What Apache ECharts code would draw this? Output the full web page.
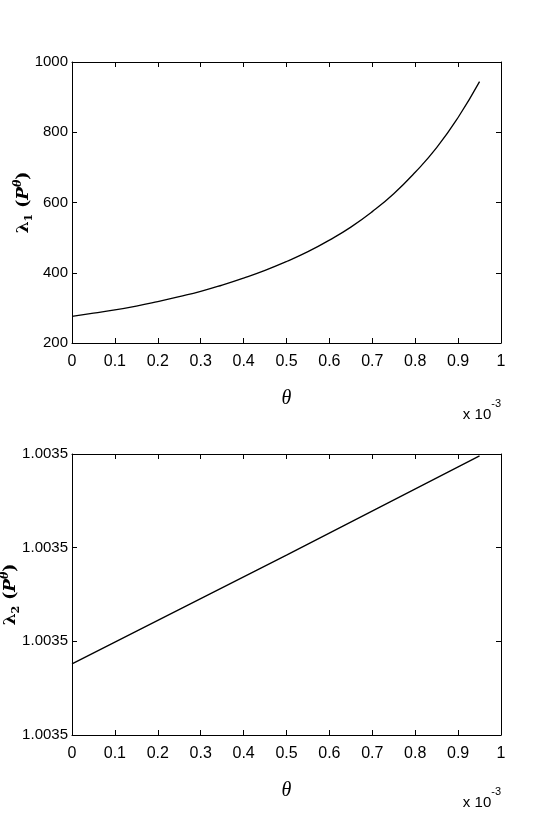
<!DOCTYPE html>
<html>
<head>
<meta charset="utf-8">
<script src="https://cdn.jsdelivr.net/npm/echarts@6/dist/echarts.min.js"></script>
<style>
  html, body { margin: 0; padding: 0; background: #fff; }
  #chart { width: 554px; height: 830px; }
</style>
</head>
<body>
<div id="chart"></div>
<script>
// values (theta in units of 1e-3)
const theta1 = [0, 0.05, 0.1, 0.15, 0.2, 0.25, 0.3, 0.35, 0.4, 0.45, 0.5,
                0.55, 0.6, 0.65, 0.7, 0.75, 0.8, 0.85, 0.9, 0.95];
const lambda1 = [276, 285, 294, 305, 318, 332, 347, 365, 385, 407, 432,
                 460, 493, 530, 574, 625, 686, 756, 842, 944];

const theta2 = [0, 0.5, 0.95];
const lambda2 = [1.00348076, 1.00348192, 1.00348298];

const xTicks = { min: 0, max: 1, interval: 0.1 };

const font = "'Liberation Sans', Arial, sans-serif";

function xAxes(gridIndex) {
    return [
        {
            type: 'value', gridIndex: gridIndex, position: 'bottom',
            min: xTicks.min, max: xTicks.max, interval: xTicks.interval,
            axisLine: { onZero: false, lineStyle: { color: '#000', width: 1 } },
            axisTick: { inside: true, length: 5, lineStyle: { color: '#000' } },
            axisLabel: { color: '#000', fontFamily: font, fontSize: 16, margin: 11 },
            splitLine: { show: false },
            name: 'θ',
            nameLocation: 'middle',
            nameGap: 46,
            nameTextStyle: { color: '#000', fontFamily: "'Liberation Serif', serif", fontStyle: 'italic', fontSize: 20 }
        },
        {
            type: 'value', gridIndex: gridIndex, position: 'top',
            min: xTicks.min, max: xTicks.max, interval: xTicks.interval,
            axisLine: { onZero: false, lineStyle: { color: '#000', width: 1 } },
            axisTick: { inside: true, length: 5, lineStyle: { color: '#000' } },
            axisLabel: { show: false },
            splitLine: { show: false }
        }
    ];
}

function yName(sub) {
    return '{l|λ}{s|' + sub + '}{l| (}{p|P}{t|θ}{l|)}';
}

const yNameStyle = {
    color: '#000',
    fontWeight: 'bold',
    rich: {
        l: { fontFamily: "'DejaVu Serif', serif", fontSize: 17, fontWeight: 'bold', lineHeight: 22, color: '#000' },
        s: { fontFamily: "'DejaVu Serif', serif", fontSize: 11, lineHeight: 22, verticalAlign: 'bottom', color: '#000' },
        p: { fontFamily: "'DejaVu Serif', serif", fontSize: 17, fontWeight: 'bold', fontStyle: 'italic', lineHeight: 22, color: '#000' },
        t: { fontFamily: "'DejaVu Serif', serif", fontSize: 11, fontWeight: 'bold', fontStyle: 'italic', lineHeight: 22, verticalAlign: 'top', color: '#000' }
    }
};

function yAxes(gridIndex, min, max, interval, fmt, sub, gap) {
    return [
        {
            type: 'value', gridIndex: gridIndex, position: 'left',
            min: min, max: max, interval: interval,
            axisLine: { show: true, onZero: false, lineStyle: { color: '#000', width: 1 } },
            axisTick: { show: true, inside: true, length: 5, lineStyle: { color: '#000' } },
            axisLabel: { color: '#000', fontFamily: font, fontSize: 15, margin: 4, formatter: fmt },
            splitLine: { show: false },
            name: yName(sub),
            nameLocation: 'middle',
            nameGap: gap,
            nameRotate: 90,
            nameMoveOverlap: false,
            nameTextStyle: yNameStyle
        },
        {
            type: 'value', gridIndex: gridIndex, position: 'right',
            min: min, max: max, interval: interval,
            axisLine: { show: true, onZero: false, lineStyle: { color: '#000', width: 1 } },
            axisTick: { show: true, inside: true, length: 5, lineStyle: { color: '#000' } },
            axisLabel: { show: false },
            splitLine: { show: false }
        }
    ];
}

function scaleNote(top) {
    return {
        type: 'text',
        right: 53,
        top: top,
        style: {
            text: '{a|x 10}{b|-3}',
            fill: '#000',
            rich: {
                a: { fontFamily: font, fontSize: 15, lineHeight: 24, verticalAlign: 'bottom', fill: '#000' },
                b: { fontFamily: font, fontSize: 11, lineHeight: 24, verticalAlign: 'top', fill: '#000' }
            }
        }
    };
}

const chart = echarts.init(document.getElementById('chart'));
chart.setOption({
    animation: false,
    backgroundColor: '#fff',
    grid: [
        { left: 72, right: 53, top: 62, height: 281, outerBoundsMode: 'none', containLabel: false },
        { left: 72, right: 53, top: 454, height: 281, outerBoundsMode: 'none', containLabel: false }
    ],
    xAxis: xAxes(0).concat(xAxes(1)),
    yAxis: yAxes(0, 200, 1000, 200, v => v, '1', 37)
        .concat(yAxes(1, 1.003480, 1.003483, 0.000001, v => v.toFixed(4), '2', 50)),
    graphic: [scaleNote(398), scaleNote(786)],
    series: [
        {
            type: 'line', xAxisIndex: 0, yAxisIndex: 0,
            data: theta1.map((t, i) => [t, lambda1[i]]),
            smooth: true, showSymbol: false,
            lineStyle: { color: '#000', width: 1.3 }
        },
        {
            type: 'line', xAxisIndex: 2, yAxisIndex: 2,
            data: theta2.map((t, i) => [t, lambda2[i]]),
            showSymbol: false,
            lineStyle: { color: '#000', width: 1.3 }
        }
    ]
});
</script>
</body>
</html>
